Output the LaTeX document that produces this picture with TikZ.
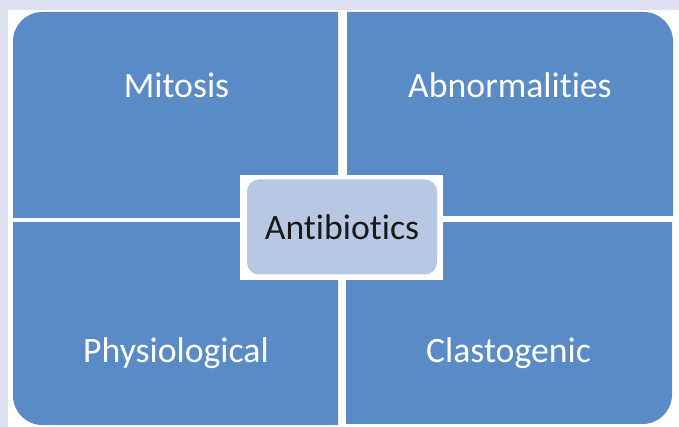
\documentclass[tikz,border=0pt]{standalone}
\usepackage{fontspec}
\setmainfont{Carlito}[Ligatures={NoCommon,NoRequired,NoContextual}]
\usetikzlibrary{positioning}
\definecolor{frame}{HTML}{DDE1EF}
\definecolor{quad}{HTML}{5B8BC6}
\definecolor{hubfill}{HTML}{B9C8E2}
\definecolor{hubtext}{HTML}{1A1A1A}

\begin{document}
\begin{tikzpicture}[x=0.75pt,y=-0.75pt,
  quadlabel/.style={text=white,anchor=base,inner sep=0pt,font=\fontsize{26.8}{30}\selectfont},
  hub/.style={fill=hubfill,rounded corners=9pt,minimum width=142.5pt,minimum height=71.25pt,text=hubtext,font=\fontsize{26.8}{30}\selectfont}]
% page
\fill[frame] (0,0) rectangle (679,427);
\fill[white] (8,10) rectangle (679,427);
\useasboundingbox (0,0) rectangle (679,427);
% four quadrants, only the outer corner is rounded
\begin{scope}
  \clip (13,12) rectangle (338,218);
  \fill[quad,rounded corners=22pt] (13,12) rectangle (400,300);
\end{scope}
\begin{scope}
  \clip (347,12) rectangle (673,216);
  \fill[quad,rounded corners=22pt] (280,12) rectangle (673,300);
\end{scope}
\begin{scope}
  \clip (13,223) rectangle (338,425);
  \fill[quad,rounded corners=22pt] (13,150) rectangle (400,425);
\end{scope}
\begin{scope}
  \clip (346,223) rectangle (672,424);
  \fill[quad,rounded corners=22pt] (280,150) rectangle (672,424);
\end{scope}
% labels
\node[quadlabel] (mitosis) at (176.5,98) {Mitosis};
\node[quadlabel] (abnorm) at (510,98) {Abnormalities};
\node[quadlabel] (physio) at (176,363) {Physiological};
\node[quadlabel] (clasto) at (508.5,363) {Clastogenic};
% centre
\fill[white] (240,175) rectangle (443,280);
\node[hub] (hub) at (342,227) {Antibiotics};
\end{tikzpicture}
\end{document}
